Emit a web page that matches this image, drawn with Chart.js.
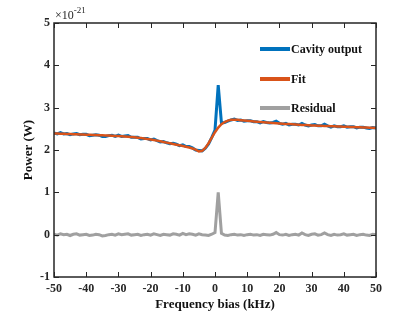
<!DOCTYPE html>
<html>
<head>
<meta charset="utf-8">
<script src="https://cdn.jsdelivr.net/npm/chart.js@4.4.1/dist/chart.umd.min.js"></script>
<style>
  html, body { margin: 0; padding: 0; background: #fff; }
</style>
</head>
<body>
<canvas id="chart" width="415" height="312"></canvas>
<script>
// Fréquence (kHz)
const freq = [-50,-49,-48,-47,-46,-45,-44,-43,-42,-41,-40,-39,-38,-37,-36,-35,-34,-33,-32,-31,
  -30,-29,-28,-27,-26,-25,-24,-23,-22,-21,-20,-19,-18,-17,-16,-15,-14,-13,-12,-11,
  -10,-9,-8,-7,-6,-5,-4,-3,-2,-1,0,1,2,3,4,5,6,7,8,9,
  10,11,12,13,14,15,16,17,18,19,20,21,22,23,24,25,26,27,28,29,
  30,31,32,33,34,35,36,37,38,39,40,41,42,43,44,45,46,47,48,49,50];

// Puissance en unités de 1e-21 W
const cavity = [2.40,2.38,2.41,2.38,2.39,2.36,2.38,2.39,2.36,2.37,2.37,2.34,2.35,2.36,2.35,2.32,2.32,2.34,2.35,2.32,
  2.35,2.32,2.33,2.34,2.30,2.30,2.30,2.26,2.27,2.27,2.24,2.26,2.22,2.19,2.20,2.17,2.15,2.16,2.14,2.10,
  2.12,2.08,2.08,2.05,2.00,1.99,1.98,2.04,2.14,2.30,2.47,3.53,2.64,2.65,2.68,2.71,2.73,2.70,2.71,2.68,
  2.69,2.69,2.67,2.67,2.64,2.67,2.65,2.64,2.65,2.68,2.63,2.61,2.63,2.59,2.61,2.61,2.59,2.63,2.59,2.57,
  2.59,2.60,2.57,2.57,2.61,2.57,2.54,2.57,2.55,2.55,2.57,2.54,2.55,2.55,2.52,2.54,2.54,2.52,2.51,2.53,2.52];

const fit = [2.390,2.388,2.385,2.382,2.380,2.377,2.374,2.371,2.368,2.365,2.362,2.359,2.356,2.353,2.349,2.346,2.343,2.340,2.336,2.332,
  2.328,2.324,2.320,2.315,2.308,2.300,2.292,2.283,2.273,2.262,2.250,2.237,2.222,2.206,2.190,2.174,2.158,2.142,2.126,2.110,
  2.094,2.077,2.058,2.036,2.008,1.965,1.980,2.050,2.160,2.290,2.420,2.530,2.610,2.660,2.695,2.712,2.716,2.712,2.705,2.697,
  2.690,2.683,2.676,2.670,2.664,2.658,2.652,2.646,2.640,2.634,2.628,2.622,2.617,2.612,2.607,2.602,2.597,2.593,2.589,2.585,
  2.581,2.578,2.575,2.572,2.569,2.566,2.563,2.560,2.557,2.554,2.551,2.548,2.545,2.542,2.539,2.536,2.533,2.530,2.527,2.524,2.521];

const residual = [0.01,-0.01,0.02,0.00,0.01,-0.02,0.01,0.02,-0.01,0.00,0.01,-0.02,-0.01,0.01,0.00,-0.03,-0.02,0.00,0.01,-0.01,
  0.02,0.00,0.01,0.02,-0.01,0.00,0.01,-0.02,0.00,0.01,-0.01,0.02,0.00,-0.02,0.01,0.00,-0.01,0.02,0.01,-0.01,
  0.03,0.00,0.02,0.01,-0.01,0.02,0.00,-0.01,-0.02,0.01,0.05,1.00,0.03,-0.01,-0.02,0.00,0.01,-0.01,0.00,-0.02,
  0.00,0.01,-0.01,0.00,-0.02,0.01,0.00,-0.01,0.01,0.05,0.00,-0.01,0.01,-0.02,0.00,0.01,-0.01,0.04,0.00,-0.02,
  0.01,0.02,-0.01,0.00,0.04,0.00,-0.02,0.01,-0.01,0.00,0.02,-0.01,0.00,0.01,-0.02,0.00,0.01,-0.01,-0.02,0.01,0.00];

const seriesNames = ['Cavity output', 'Fit', 'Residual'];
const seriesColors = ['#0072BD', '#D95319', '#A0A0A0'];

const serif = '"Liberation Serif", "Times New Roman", serif';
const axisColor = '#262626';

function points(ys) {
    return freq.map((f, i) => ({ x: f, y: ys[i] }));
}

// Ticks vers l'intérieur + cadre + exposant
const boxPlugin = {
    id: 'box',
    afterDatasetsDraw(chart) {
        const { ctx, chartArea: a, scales } = chart;
        ctx.save();
        ctx.strokeStyle = axisColor;
        ctx.lineWidth = 1.5;
        ctx.strokeRect(a.left, a.top, a.right - a.left, a.bottom - a.top);
        ctx.lineWidth = 1;
        const len = 5;
        scales.x.ticks.forEach(t => {
            const px = Math.round(scales.x.getPixelForValue(t.value)) + 0.5;
            ctx.beginPath();
            ctx.moveTo(px, a.bottom); ctx.lineTo(px, a.bottom - len);
            ctx.moveTo(px, a.top); ctx.lineTo(px, a.top + len);
            ctx.stroke();
        });
        scales.y.ticks.forEach(t => {
            const py = Math.round(scales.y.getPixelForValue(t.value)) + 0.5;
            ctx.beginPath();
            ctx.moveTo(a.left, py); ctx.lineTo(a.left + len, py);
            ctx.moveTo(a.right, py); ctx.lineTo(a.right - len, py);
            ctx.stroke();
        });
        // x10^-21
        ctx.fillStyle = axisColor;
        ctx.textBaseline = 'alphabetic';
        ctx.textAlign = 'left';
        ctx.font = '12px ' + serif;
        ctx.fillText('\u00d710', a.left + 1, a.top - 4);
        const w = ctx.measureText('\u00d710').width;
        ctx.font = '9px ' + serif;
        ctx.fillText('-21', a.left + 1 + w, a.top - 10);
        ctx.restore();
    }
};

// Légende dans la zone du graphique
const legendPlugin = {
    id: 'innerLegend',
    afterDraw(chart) {
        const { ctx, chartArea: a } = chart;
        const rows = [26, 56, 85];
        ctx.save();
        ctx.font = 'bold 12px ' + serif;
        ctx.textBaseline = 'middle';
        ctx.textAlign = 'left';
        chart.data.datasets.forEach((ds, i) => {
            const y = a.top + rows[i];
            ctx.strokeStyle = ds.borderColor;
            ctx.lineWidth = 4;
            ctx.beginPath();
            ctx.moveTo(a.right - 116, y);
            ctx.lineTo(a.right - 86, y);
            ctx.stroke();
            ctx.fillStyle = '#111';
            ctx.fillText(ds.label, a.right - 85, y + 1);
        });
        ctx.restore();
    }
};

const ctx = document.getElementById('chart').getContext('2d');
new Chart(ctx, {
    type: 'line',
    data: {
        datasets: [
            { label: seriesNames[0], data: points(cavity), borderColor: seriesColors[0], borderWidth: 3, order: 2 },
            { label: seriesNames[1], data: points(fit), borderColor: seriesColors[1], borderWidth: 2.5, order: 1 },
            { label: seriesNames[2], data: points(residual), borderColor: seriesColors[2], borderWidth: 3, order: 3 }
        ]
    },
    options: {
        responsive: false,
        animation: false,
        layout: { padding: { left: 0, top: 23, right: 39, bottom: 0 } },
        elements: { point: { radius: 0 }, line: { tension: 0 } },
        plugins: { legend: { display: false }, tooltip: { enabled: false } },
        scales: {
            x: {
                type: 'linear',
                min: -50,
                max: 50,
                afterFit: s => { s.height = 35; },
                grid: { display: false, drawTicks: false },
                border: { display: false },
                ticks: { stepSize: 10, padding: 5, color: axisColor, font: { family: serif, size: 12, weight: 'bold' } },
                title: {
                    display: true, text: 'Frequency bias (kHz)', color: '#111',
                    font: { family: serif, size: 13, weight: 'bold' }, padding: { top: 0, bottom: 0 }
                }
            },
            y: {
                min: -1,
                max: 5,
                afterFit: s => { s.width = 54; },
                grid: { display: false, drawTicks: false },
                border: { display: false },
                ticks: { stepSize: 1, padding: 4, color: axisColor, font: { family: serif, size: 12, weight: 'bold' } },
                title: {
                    display: true, text: 'Power (W)', color: '#111',
                    font: { family: serif, size: 13, weight: 'bold' }, padding: { top: 21, bottom: 0 }
                }
            }
        }
    },
    plugins: [boxPlugin, legendPlugin]
});
</script>
</body>
</html>
